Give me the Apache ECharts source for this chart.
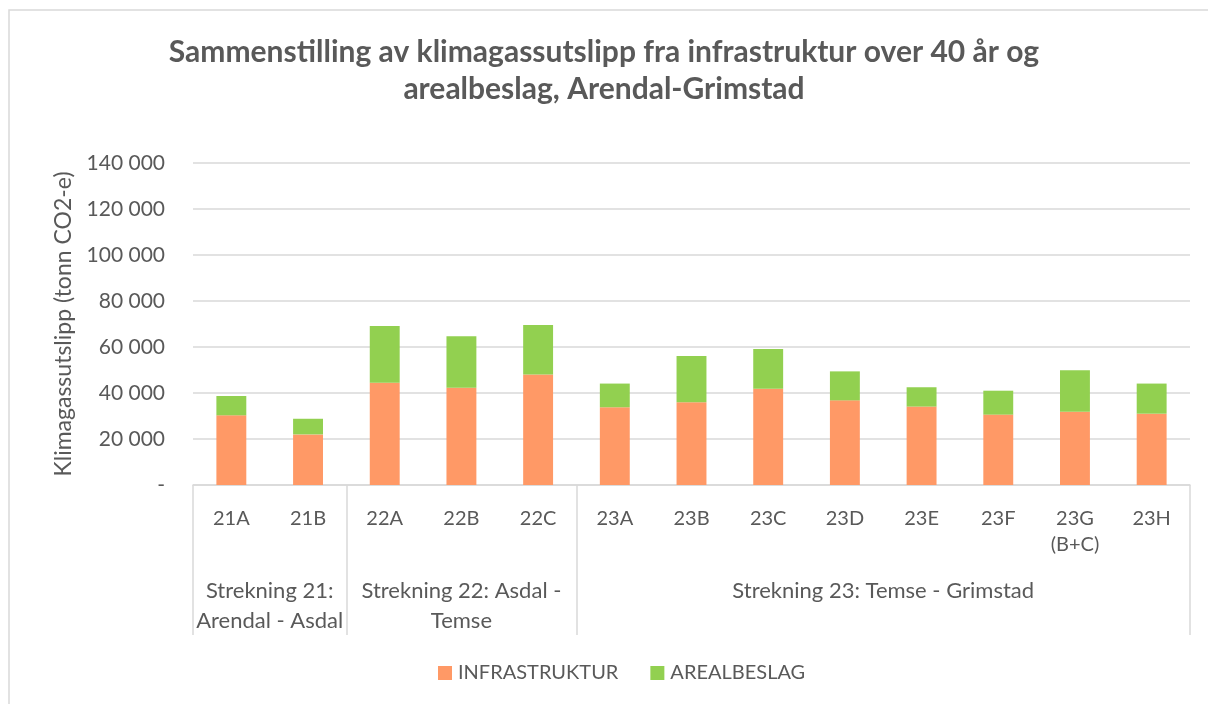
<!DOCTYPE html>
<html lang="no">
<head>
<meta charset="UTF-8" />
<title>Klimagassutslipp Arendal-Grimstad</title>
<script src="https://cdn.jsdelivr.net/npm/echarts@6/dist/echarts.min.js"></script>
<style>
  html, body { margin: 0; padding: 0; background: #fff; }
  #chart { width: 1208px; height: 704px; }
</style>
</head>
<body>
<div id="chart"></div>
<script>
  // data
  const categories = ['21A', '21B', '22A', '22B', '22C', '23A', '23B', '23C', '23D', '23E', '23F', '23G\n(B+C)', '23H'];
  const infrastruktur = [30300, 22000, 44500, 42300, 48000, 33800, 36000, 41900, 36800, 34100, 30600, 31900, 31000];
  const arealbeslag = [8400, 6800, 24600, 22350, 21600, 10300, 20100, 17200, 12600, 8400, 10400, 18000, 13100];
  const groups = ['Strekning 21:\nArendal - Asdal', 'Strekning 22: Asdal -\nTemse', 'Strekning 23: Temse - Grimstad'];
  const groupSizes = [2, 3, 8];
  const yTicks = [0, 20000, 40000, 60000, 80000, 100000, 120000, 140000];

  // group bounds and centres on a 0..13 value axis under the categories
  const groupBounds = [0];
  groupSizes.forEach(n => groupBounds.push(groupBounds[groupBounds.length - 1] + n));
  const groupCentres = groupSizes.map((n, i) => groupBounds[i] + n / 2);

  const textColor = '#595959';
  const lineColor = '#d9d9d9';
  const font = 'Lato, "Open Sans", sans-serif';

  const chart = echarts.init(document.getElementById('chart'));
  chart.setOption({
    animation: false,
    textStyle: { fontFamily: font, color: textColor },
    title: {
      text: 'Sammenstilling av klimagassutslipp fra infrastruktur over 40 år og\narealbeslag, Arendal-Grimstad',
      left: 'center',
      top: 29,
      textStyle: { fontFamily: font, fontSize: 30, fontWeight: 'bold', color: textColor, lineHeight: 37, align: 'center' }
    },
    legend: {
      bottom: 16,
      left: 433,
      icon: 'rect',
      itemWidth: 14,
      itemHeight: 14,
      itemGap: 32,
      textStyle: { fontFamily: font, fontSize: 20, color: textColor, padding: [0, 0, 0, 1] },
      data: ['INFRASTRUKTUR', 'AREALBESLAG']
    },
    graphic: [{
      type: 'rect',
      silent: true,
      shape: { x: 9, y: 10, width: 1400, height: 900 },
      style: { fill: 'none', stroke: lineColor, lineWidth: 1.5 }
    }],
    grid: { left: 193, right: 18, top: 163, bottom: 219 },
    xAxis: [
      {
        type: 'category',
        data: categories,
        axisLine: { lineStyle: { color: lineColor, width: 1.5 } },
        axisTick: { show: false },
        axisLabel: { fontFamily: font, fontSize: 20, color: textColor, margin: 21, lineHeight: 26, interval: 0 }
      },
      {
        type: 'value',
        position: 'bottom',
        min: 0,
        max: groupBounds[groupBounds.length - 1],
        axisLine: { show: false },
        splitLine: { show: false },
        axisTick: {
          show: true,
          customValues: groupBounds,
          length: 150,
          lineStyle: { color: lineColor, width: 1.5 }
        },
        axisLabel: {
          customValues: groupCentres,
          formatter: v => groups[groupCentres.indexOf(v)],
          fontFamily: font,
          fontSize: 22,
          color: textColor,
          lineHeight: 30,
          margin: 91,
          verticalAlign: 'top'
        }
      }
    ],
    yAxis: {
      type: 'value',
      min: yTicks[0],
      max: yTicks[yTicks.length - 1],
      interval: 20000,
      name: 'Klimagassutslipp (tonn CO2-e)',
      nameLocation: 'middle',
      nameGap: 118,
      nameTextStyle: { fontFamily: font, fontSize: 23, color: textColor },
      axisLine: { show: false },
      axisTick: { show: false },
      splitLine: { lineStyle: { color: lineColor, width: 1.5 } },
      axisLabel: {
        fontFamily: font,
        fontSize: 21,
        color: textColor,
        margin: 28,
        formatter: v => v === 0 ? '-' : String(v).replace(/\B(?=(\d{3})+(?!\d))/g, ' ')
      }
    },
    series: [
      {
        name: 'INFRASTRUKTUR',
        type: 'bar',
        stack: 'total',
        barWidth: '39%',
        itemStyle: { color: '#ff9966' },
        data: infrastruktur
      },
      {
        name: 'AREALBESLAG',
        type: 'bar',
        stack: 'total',
        barWidth: '39%',
        itemStyle: { color: '#92d050' },
        data: arealbeslag
      }
    ]
  });
</script>
</body>
</html>
